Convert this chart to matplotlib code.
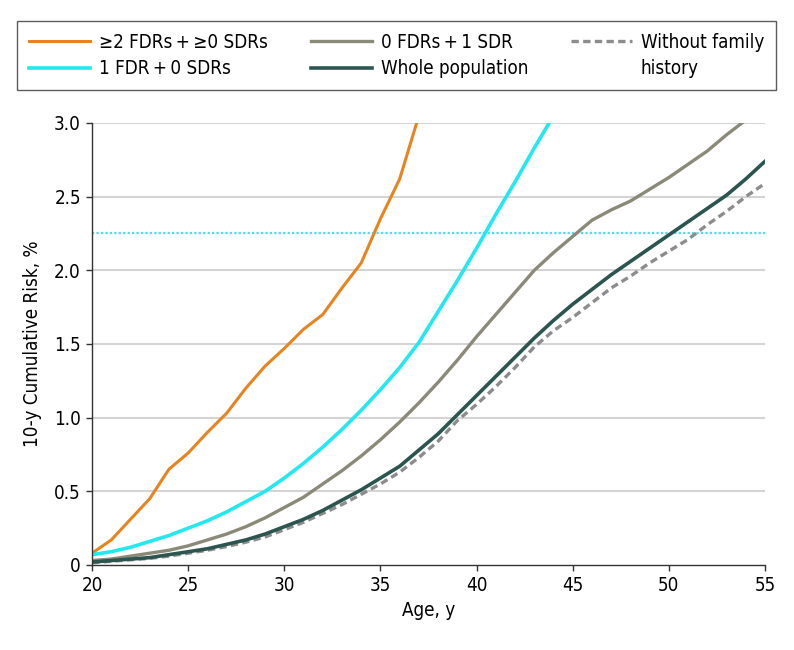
import matplotlib
matplotlib.use("Agg")
import matplotlib.pyplot as plt
from matplotlib.lines import Line2D
from matplotlib.ticker import FuncFormatter

plt.rcParams["font.family"] = ["DejaVu Sans"]
plt.rcParams["font.stretch"] = "condensed"

AGES = list(range(20, 56))
# 10-y cumulative risk (%) by age
TWO_FDR = [0.08, 0.17, 0.31, 0.45, 0.65, 0.76, 0.90, 1.03, 1.20, 1.35, 1.47,
           1.60, 1.70, 1.88, 2.05, 2.35, 2.62, 3.05]
ONE_FDR = [0.07, 0.09, 0.12, 0.16, 0.20, 0.25, 0.30, 0.36, 0.43, 0.50, 0.59,
           0.69, 0.80, 0.92, 1.05, 1.19, 1.34, 1.51, 1.72, 1.93, 2.15, 2.38,
           2.60, 2.83, 3.05]
ONE_SDR = [0.03, 0.04, 0.06, 0.08, 0.10, 0.13, 0.17, 0.21, 0.26, 0.32, 0.39,
           0.46, 0.55, 0.64, 0.74, 0.85, 0.97, 1.10, 1.24, 1.39, 1.55, 1.70,
           1.85, 2.00, 2.12, 2.23, 2.34, 2.41, 2.47, 2.55, 2.63, 2.72, 2.81,
           2.92, 3.02]
WHOLE = [0.02, 0.03, 0.04, 0.05, 0.07, 0.09, 0.11, 0.14, 0.17, 0.21, 0.26,
         0.31, 0.37, 0.44, 0.51, 0.59, 0.67, 0.78, 0.89, 1.02, 1.15, 1.28,
         1.41, 1.54, 1.66, 1.77, 1.87, 1.97, 2.06, 2.15, 2.24, 2.33, 2.42,
         2.51, 2.62, 2.74]
NO_FH = [0.015, 0.025, 0.035, 0.045, 0.06, 0.08, 0.10, 0.125, 0.155, 0.19,
         0.24, 0.29, 0.35, 0.41, 0.48, 0.55, 0.63, 0.73, 0.84, 0.98, 1.09,
         1.21, 1.34, 1.48, 1.59, 1.68, 1.78, 1.88, 1.96, 2.05, 2.13, 2.21,
         2.31, 2.40, 2.50, 2.59]
THRESHOLD = 2.25
T = "\u2009+\u2009"

fig = plt.figure(figsize=(7.94, 6.5), dpi=100)
ax = fig.add_axes([0.1159, 0.1308, 0.8476, 0.68])

ax.axhline(THRESHOLD, color="#3fe3ea", lw=1.6, ls=(0, (1, 1.0)), zorder=2)
h1, = ax.plot(AGES[:len(TWO_FDR)], TWO_FDR, color="#e8841f", lw=2.2)
h2, = ax.plot(AGES[:len(ONE_FDR)], ONE_FDR, color="#22e8ef", lw=2.6)
h3, = ax.plot(AGES[:len(ONE_SDR)], ONE_SDR, color="#8b8a78", lw=2.4)
h5, = ax.plot(AGES, NO_FH, color="#8c8c8f", lw=2.4, ls=(0, (2.2, 1.3)))
h4, = ax.plot(AGES, WHOLE, color="#2c5550", lw=2.6)

ax.set_xlim(20, 55)
ax.set_ylim(0, 3.0)
ax.set_xticks(range(20, 56, 5))
ax.set_yticks([0, 0.5, 1.0, 1.5, 2.0, 2.5, 3.0])
ax.yaxis.set_major_formatter(FuncFormatter(lambda v, p: "0" if v == 0 else f"{v:.1f}"))
for v in [0.5, 1.0, 1.5, 2.0, 2.5, 3.0]:
    ax.axhline(v, color="#d4d4d4", lw=1.5, zorder=0)
for s in ["top", "right"]:
    ax.spines[s].set_visible(False)
for s in ["left", "bottom"]:
    ax.spines[s].set_color("#333333")
    ax.spines[s].set_linewidth(1.0)
ax.tick_params(direction="out", length=4.5, width=1, color="#333333", labelsize=13.5, pad=3.5)
ax.set_xlabel("Age, y", fontsize=13.5, labelpad=4)
ax.set_ylabel("10-y Cumulative Risk, %", fontsize=13.5, labelpad=9)

blank = Line2D([], [], color="none")
handles = [h1, h2, h3, h4, h5, blank]
labels = [f"≥2 FDRs{T}≥0 SDRs", f"1 FDR{T}0 SDRs", f"0 FDRs{T}1 SDR",
          "Whole population", "Without family", "history"]
leg = fig.legend(handles, labels, ncol=3, mode="expand",
                 bbox_to_anchor=(17 / 794, 0.0, 759 / 794, (650 - 21) / 650),
                 loc="upper left", fontsize=13.5, frameon=True, fancybox=False,
                 edgecolor="#333333", handlelength=3.25, handletextpad=0.48,
                 borderaxespad=0, borderpad=0.62, labelspacing=0.42, columnspacing=1.0)
leg.get_frame().set_linewidth(1.0)

fig.savefig("out.png", dpi=100)
